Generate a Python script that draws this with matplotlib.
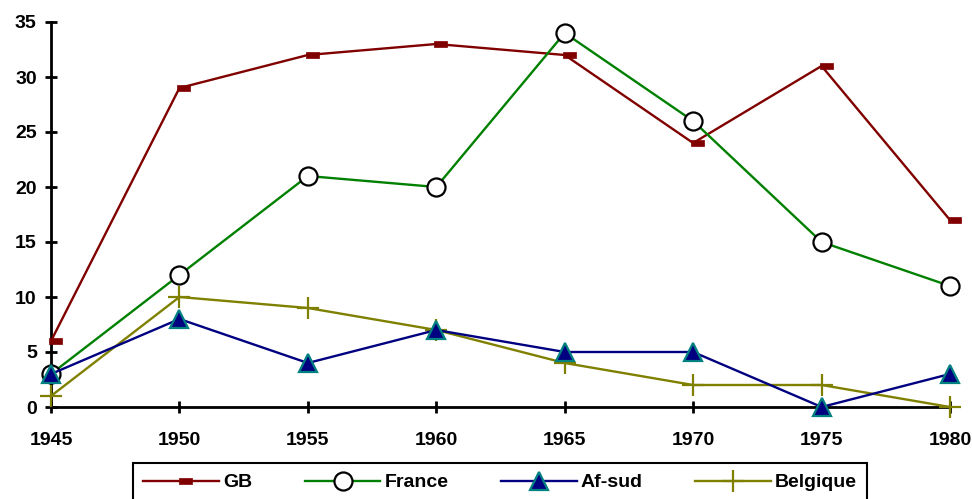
import numpy as np
import matplotlib.pyplot as plt

plt.rc('font', family='Liberation Sans', weight='bold', size=14)

years = [1945, 1950, 1955, 1960, 1965, 1970, 1975, 1980]
gb = [6, 29, 32, 33, 32, 24, 31, 17]
france = [3, 12, 21, 20, 34, 26, 15, 11]
afsud = [3, 8, 4, 7, 5, 5, 0, 3]
belgique = [1, 10, 9, 7, 4, 2, 2, 0]

fig = plt.figure(figsize=(9.72, 4.99), dpi=100)
ax = fig.add_axes([51/972, 92/499, 899/972, 385/499])

# small flat rectangle, a little right of the point (like the original)
rect = [(-0.3, -0.5), (1.7, -0.5), (1.7, 0.5), (-0.3, 0.5), (-0.3, -0.5)]
lw = 1.7
l1, = ax.plot(years, gb, color='#800000', lw=lw, marker=rect, markersize=16,
              markerfacecolor='#800000', markeredgecolor='#800000', markeredgewidth=0.5,
              clip_on=False, zorder=3)
l2, = ax.plot(years, france, color='#008000', lw=lw, marker='o', markersize=13,
              markerfacecolor='white', markeredgecolor='black', markeredgewidth=1.6,
              clip_on=False, zorder=4)
l3, = ax.plot(years, afsud, color='#000080', lw=lw, marker='^', markersize=13,
              markerfacecolor='#000080', markeredgecolor='#008080', markeredgewidth=1.6,
              clip_on=False, zorder=5)
l4, = ax.plot(years, belgique, color='#808000', lw=lw, marker='+', markersize=16,
              markeredgewidth=1.6, clip_on=False, zorder=3)

ax.set_xlim(1945, 1980)
ax.set_ylim(0, 35)
ax.set_xticks(years)
ax.set_yticks(range(0, 36, 5))
for s in ['top', 'right']:
    ax.spines[s].set_visible(False)
for s in ['left', 'bottom']:
    ax.spines[s].set_linewidth(2)
ax.tick_params(direction='inout', length=8.5, width=2, labelsize=14)
ax.tick_params(axis='x', pad=14)
ax.tick_params(axis='y', pad=6)

leg = fig.legend([l1, l2, l3, l4], ['GB', 'France', 'Af-sud', 'Belgique'],
                 ncol=4, loc='upper center', bbox_to_anchor=(500/972, 36/499),
                 borderaxespad=0, frameon=True, fancybox=False, framealpha=1,
                 edgecolor='black', fontsize=14, handlelength=3.9, handletextpad=0.2,
                 columnspacing=2.7, borderpad=0.55)
leg.get_frame().set_linewidth(1.5)

fig.savefig('out.png', dpi=100)
